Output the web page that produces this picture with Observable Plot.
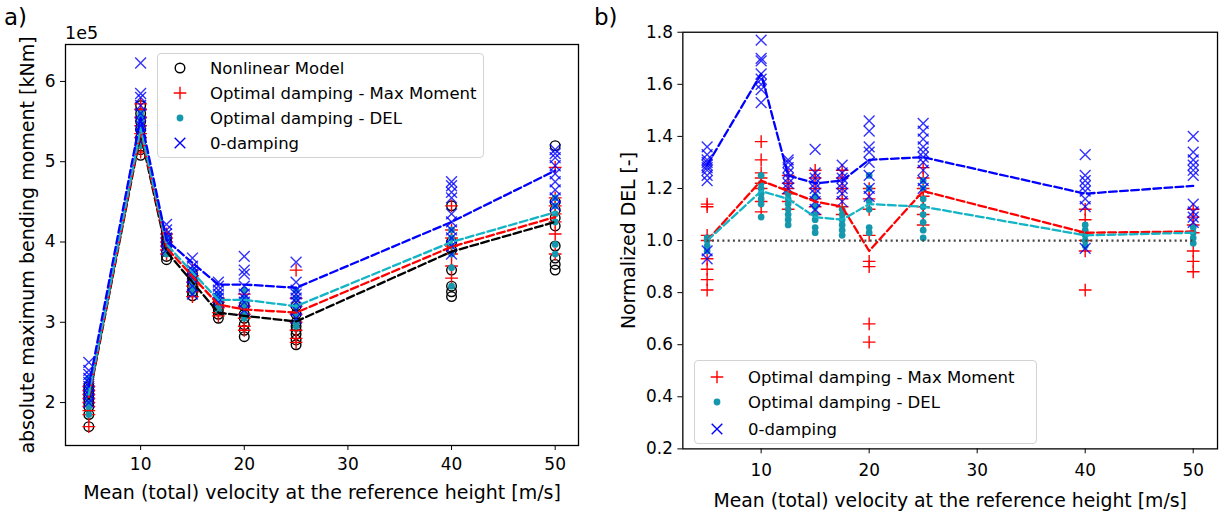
<!DOCTYPE html>
<html><head><meta charset="utf-8">
<script src="https://cdn.jsdelivr.net/npm/d3@7"></script>
<script src="https://cdn.jsdelivr.net/npm/@observablehq/plot@0.6"></script>
<style>
html,body{margin:0;padding:0;background:#fff;overflow:hidden;}
#wrap{position:relative;width:1220px;height:517px;font-family:"DejaVu Sans",sans-serif;color:#000;overflow:hidden;}
.pl{position:absolute;top:0;}
.tag{position:absolute;font-size:23px;line-height:1;}
.off{position:absolute;font-size:17.5px;line-height:1;}
.legend{position:absolute;border:1px solid #d3d3d3;border-radius:4px;background:rgba(255,255,255,0.85);font-size:16.5px;box-sizing:border-box;}
.legend .row{position:absolute;white-space:nowrap;line-height:1;}
.legend svg{position:absolute;overflow:visible;}
.pl svg g[aria-label="x-axis label"] text, .pl svg g[aria-label="y-axis label"] text{font-size:19px;}
</style></head>
<body><div id="wrap">
<div id="pa" class="pl" style="left:0"></div>
<div id="pb" class="pl" style="left:600px"></div>
<div class="tag" style="left:4px;top:6px">a)</div>
<div class="tag" style="left:594px;top:6px">b)</div>
<div class="off" style="left:65px;top:25px">1e5</div>
<div id="lega" class="legend" style="left:157px;top:53px;width:327px;height:105px"></div>
<div id="legb" class="legend" style="left:694px;top:360px;width:343px;height:84px"></div>
</div>
<script>
// ---------- shared ----------
const windSpeeds = [5, 10, 12.5, 15, 17.5, 20, 25, 40, 50];
const xTicks = [10, 20, 30, 40, 50];
const xLabel = "Mean (total) velocity at the reference height [m/s]";

// ---------- panel a: absolute maximum bending moment (units of 1e5 kNm) ----------
const yLabelA = "absolute maximum bending moment [kNm]";
const yTicksA = [2, 3, 4, 5, 6];
const seriesNamesA = ["Nonlinear Model", "Optimal damping - Max Moment", "Optimal damping - DEL", "0-damping"];
const nonlinearPts = [
  [1.70, 1.85, 1.95, 2.00, 2.05, 2.10, 2.15, 2.20],
  [5.08, 5.15, 5.25, 5.30, 5.40, 5.50, 5.60, 5.70],
  [3.78, 3.82, 3.88, 3.95, 4.00, 4.05],
  [3.33, 3.38, 3.45, 3.50, 3.55, 3.60],
  [3.05, 3.10, 3.15, 3.20, 3.25],
  [2.82, 2.90, 2.97, 3.05, 3.10, 3.20],
  [2.72, 2.78, 2.85, 2.90, 2.95, 3.00, 3.10, 3.20],
  [3.32, 3.38, 3.45, 3.65, 3.90, 4.00, 4.45],
  [3.65, 3.72, 3.80, 3.95, 4.20, 4.30, 4.40, 4.50, 5.20]
];
const maxMomentPtsA = [
  [1.70, 1.85, 1.90, 1.95, 2.00, 2.05, 2.10, 2.15, 2.20],
  [5.12, 5.20, 5.30, 5.35, 5.45, 5.55, 5.65, 5.72],
  [3.85, 3.90, 3.95, 4.00, 4.05, 4.10],
  [3.32, 3.38, 3.45, 3.50, 3.58, 3.65],
  [3.08, 3.12, 3.18, 3.25, 3.30],
  [2.90, 2.95, 3.05, 3.10, 3.20, 3.35],
  [2.75, 2.80, 2.90, 3.00, 3.10, 3.20, 3.30, 3.65],
  [3.55, 3.70, 3.85, 3.95, 4.05, 4.15, 4.45],
  [3.85, 4.10, 4.25, 4.35, 4.45, 4.55, 4.93]
];
const delPtsA = [
  [1.85, 1.95, 2.00, 2.05, 2.10, 2.15, 2.20, 2.30],
  [5.20, 5.30, 5.40, 5.45, 5.50, 5.55, 5.60],
  [3.85, 3.90, 3.95, 4.00, 4.05],
  [3.38, 3.45, 3.50, 3.55, 3.60, 3.65],
  [3.15, 3.20, 3.25, 3.30, 3.35],
  [3.05, 3.10, 3.20, 3.25, 3.30, 3.40],
  [2.95, 3.00, 3.10, 3.20, 3.30, 3.40],
  [3.45, 3.68, 3.85, 3.95, 4.05, 4.15],
  [3.85, 3.97, 4.25, 4.35, 4.45, 4.55]
];
const zeroDampPtsA = [
  [2.00, 2.05, 2.10, 2.15, 2.20, 2.25, 2.30, 2.35, 2.40, 2.50],
  [5.25, 5.35, 5.45, 5.50, 5.60, 5.70, 5.80, 5.85, 6.23],
  [3.90, 3.95, 4.00, 4.05, 4.10, 4.15, 4.22],
  [3.35, 3.45, 3.55, 3.60, 3.65, 3.70, 3.80],
  [3.25, 3.30, 3.35, 3.40, 3.45, 3.50],
  [3.15, 3.25, 3.30, 3.35, 3.45, 3.60, 3.65, 3.82],
  [3.05, 3.15, 3.25, 3.30, 3.35, 3.40, 3.50, 3.75],
  [3.85, 3.95, 4.05, 4.15, 4.25, 4.35, 4.55, 4.62, 4.70, 4.75],
  [4.45, 4.55, 4.65, 4.75, 4.85, 4.95, 5.05, 5.10, 5.15]
];
const nonlinearMean = [2.05, 5.35, 3.88, 3.50, 3.12, 3.08, 3.01, 3.88, 4.25];
const maxMomentMeanA = [2.07, 5.38, 3.93, 3.57, 3.22, 3.16, 3.12, 3.94, 4.31];
const delMeanA = [2.10, 5.42, 3.97, 3.62, 3.28, 3.28, 3.20, 4.00, 4.37];
const zeroDampMeanA = [2.20, 5.55, 4.02, 3.74, 3.47, 3.47, 3.43, 4.25, 4.89];

// ---------- panel b: normalized DEL ----------
const yLabelB = "Normalized DEL [-]";
const yTicksB = [0.2, 0.4, 0.6, 0.8, 1.0, 1.2, 1.4, 1.6, 1.8];
const seriesNamesB = ["Optimal damping - Max Moment", "Optimal damping - DEL", "0-damping"];
const maxMomentPtsB = [
  [0.81, 0.85, 0.89, 0.93, 1.00, 1.02, 1.13, 1.14],
  [1.11, 1.15, 1.20, 1.22, 1.24, 1.26, 1.31, 1.38],
  [1.12, 1.15, 1.18, 1.20, 1.22, 1.25],
  [1.10, 1.13, 1.16, 1.20, 1.24, 1.27],
  [1.10, 1.13, 1.16, 1.20, 1.24, 1.27],
  [0.61, 0.68, 0.90, 0.92, 1.02, 1.12, 1.16, 1.20],
  [1.06, 1.10, 1.13, 1.17, 1.20, 1.24, 1.28],
  [0.81, 0.96, 1.00, 1.03, 1.08, 1.12],
  [0.88, 0.92, 0.96, 1.03, 1.06, 1.09, 1.12]
];
const delPtsB = [
  [0.96, 0.98, 1.00, 1.01],
  [1.09, 1.14, 1.16, 1.18, 1.20, 1.22, 1.25],
  [1.06, 1.08, 1.10, 1.12, 1.14, 1.16, 1.18],
  [1.03, 1.05, 1.08, 1.10, 1.13, 1.17],
  [1.02, 1.04, 1.06, 1.08, 1.10, 1.12],
  [1.03, 1.05, 1.12, 1.15, 1.20, 1.25],
  [1.01, 1.04, 1.07, 1.10, 1.13, 1.16, 1.20, 1.23],
  [0.98, 1.00, 1.02, 1.04, 1.06],
  [0.99, 1.01, 1.03, 1.05]
];
const zeroDampPtsB = [
  [0.93, 0.96, 1.23, 1.25, 1.27, 1.28, 1.29, 1.30, 1.31, 1.33, 1.36],
  [1.53, 1.58, 1.60, 1.62, 1.64, 1.69, 1.70, 1.77],
  [1.20, 1.22, 1.24, 1.26, 1.28, 1.30, 1.31],
  [1.12, 1.15, 1.18, 1.20, 1.22, 1.24, 1.26, 1.35],
  [1.15, 1.18, 1.20, 1.22, 1.24, 1.26, 1.29],
  [1.17, 1.20, 1.25, 1.30, 1.34, 1.36, 1.42, 1.46],
  [1.20, 1.23, 1.27, 1.30, 1.32, 1.34, 1.36, 1.39, 1.42, 1.45],
  [0.97, 1.13, 1.16, 1.19, 1.21, 1.23, 1.25, 1.33],
  [1.07, 1.09, 1.11, 1.14, 1.25, 1.27, 1.29, 1.31, 1.34, 1.40]
];
const maxMomentMeanB = [1.00, 1.23, 1.19, 1.15, 1.13, 0.96, 1.19, 1.03, 1.035];
const delMeanB = [1.00, 1.19, 1.16, 1.09, 1.08, 1.14, 1.13, 1.02, 1.03];
const zeroDampMeanB = [1.29, 1.64, 1.25, 1.22, 1.23, 1.31, 1.32, 1.18, 1.21];
const referenceLevel = [1.0];
const referenceSpan = [5, 50];

// ---------- styles ----------
const colBlack = "#000000", colRed = "#ff0000", colDot = "#1598ad", colCyanLine = "#12b4c6", colBlue = "#0000ff";
const dash = "7.8,3.4";

const flat = (arr) => arr.flatMap((vals, i) => vals.map(v => ({w: windSpeeds[i], v})));
const meanRows = (arr) => arr.map((v, i) => ({w: windSpeeds[i], v}));

const circleMk = (pts) => Plot.dot(flat(pts), {x: "w", y: "v", r: 4.8, stroke: colBlack, strokeWidth: 1.4, fill: "none"});
const plusMk = (pts) => Plot.dot(flat(pts), {x: "w", y: "v", r: 4.2, symbol: "plus", stroke: colRed, strokeWidth: 1.4});
const dotMk = (pts) => Plot.dot(flat(pts), {x: "w", y: "v", r: 3.4, fill: colDot, stroke: "none"});
const timesMk = (pts) => Plot.dot(flat(pts), {x: "w", y: "v", r: 5, symbol: "times", stroke: colBlue, strokeWidth: 1.4, strokeOpacity: 0.8});
const meanLine = (m, c) => Plot.line(meanRows(m), {x: "w", y: "v", stroke: c, strokeWidth: 2.3, strokeDasharray: dash});

const baseStyle = {fontFamily: "DejaVu Sans", fontSize: "17px", color: "black", background: "transparent", overflow: "visible"};

const plotA = Plot.plot({
  width: 600, height: 517,
  marginLeft: 65, marginRight: 22, marginTop: 44, marginBottom: 72,
  style: baseStyle,
  x: {domain: [2.75, 52.25]},
  y: {domain: [1.465, 6.46]},
  marks: [
    circleMk(nonlinearPts),
    plusMk(maxMomentPtsA),
    dotMk(delPtsA),
    timesMk(zeroDampPtsA),
    meanLine(nonlinearMean, colBlack),
    meanLine(maxMomentMeanA, colRed),
    meanLine(delMeanA, colCyanLine),
    meanLine(zeroDampMeanA, colBlue),
    Plot.frame({stroke: "black", strokeWidth: 1.3}),
    Plot.axisX({ticks: xTicks, tickSize: 5, tickPadding: 7, label: xLabel, labelAnchor: "center", labelOffset: 53, labelArrow: "none"}),
    Plot.axisY({ticks: yTicksA, tickSize: 5, tickPadding: 5, tickFormat: d => String(d), label: yLabelA, labelAnchor: "center", labelOffset: 45, labelArrow: "none"})
  ]
});
document.getElementById("pa").appendChild(plotA);

const plotB = Plot.plot({
  width: 625, height: 517,
  marginLeft: 83, marginRight: 3, marginTop: 32, marginBottom: 65,
  style: baseStyle,
  x: {domain: [2.75, 52.25]},
  y: {domain: [0.2, 1.8]},
  marks: [
    plusMk(maxMomentPtsB),
    dotMk(delPtsB),
    timesMk(zeroDampPtsB),
    meanLine(maxMomentMeanB, colRed),
    meanLine(delMeanB, colCyanLine),
    meanLine(zeroDampMeanB, colBlue),
    Plot.ruleY(referenceLevel, {x1: referenceSpan[0], x2: referenceSpan[1], stroke: "#444", strokeWidth: 2.3, strokeDasharray: "2,3.3"}),
    Plot.frame({stroke: "black", strokeWidth: 1.3}),
    Plot.axisX({ticks: xTicks, tickSize: 5, tickPadding: 10, label: xLabel, labelAnchor: "center", labelOffset: 59, labelArrow: "none"}),
    Plot.axisY({ticks: yTicksB, tickSize: 5, tickPadding: 5, tickFormat: d3.format(".1f"), label: yLabelB, labelAnchor: "center", labelOffset: 62, labelArrow: "none"})
  ]
});
document.getElementById("pb").appendChild(plotB);

// ---------- legends ----------
const symbolSvg = {
  circle: `<circle r="4.8" fill="none" stroke="${colBlack}" stroke-width="1.4"/>`,
  plus: `<path d="M-6.3,0H6.3M0,-6.3V6.3" stroke="${colRed}" stroke-width="1.4"/>`,
  dot: `<circle r="3.4" fill="${colDot}"/>`,
  times: `<path d="M-5.3,-5.3L5.3,5.3M-5.3,5.3L5.3,-5.3" stroke="${colBlue}" stroke-width="1.4"/>`
};
function buildLegend(el, names, syms, rowYs, mx, tx) {
  names.forEach((n, i) => {
    const s = document.createElementNS("http://www.w3.org/2000/svg", "svg");
    s.setAttribute("width", "1"); s.setAttribute("height", "1");
    s.style.left = mx + "px"; s.style.top = rowYs[i] + "px";
    s.innerHTML = symbolSvg[syms[i]];
    el.appendChild(s);
    const r = document.createElement("div");
    r.className = "row"; r.textContent = n;
    r.style.left = tx + "px"; r.style.top = (rowYs[i] - 7) + "px";
    el.appendChild(r);
  });
}
buildLegend(document.getElementById("lega"), seriesNamesA, ["circle", "plus", "dot", "times"], [14, 39, 64, 89], 22, 52);
buildLegend(document.getElementById("legb"), seriesNamesB, ["plus", "dot", "times"], [16, 41, 68], 22, 53);
</script>
</body></html>
